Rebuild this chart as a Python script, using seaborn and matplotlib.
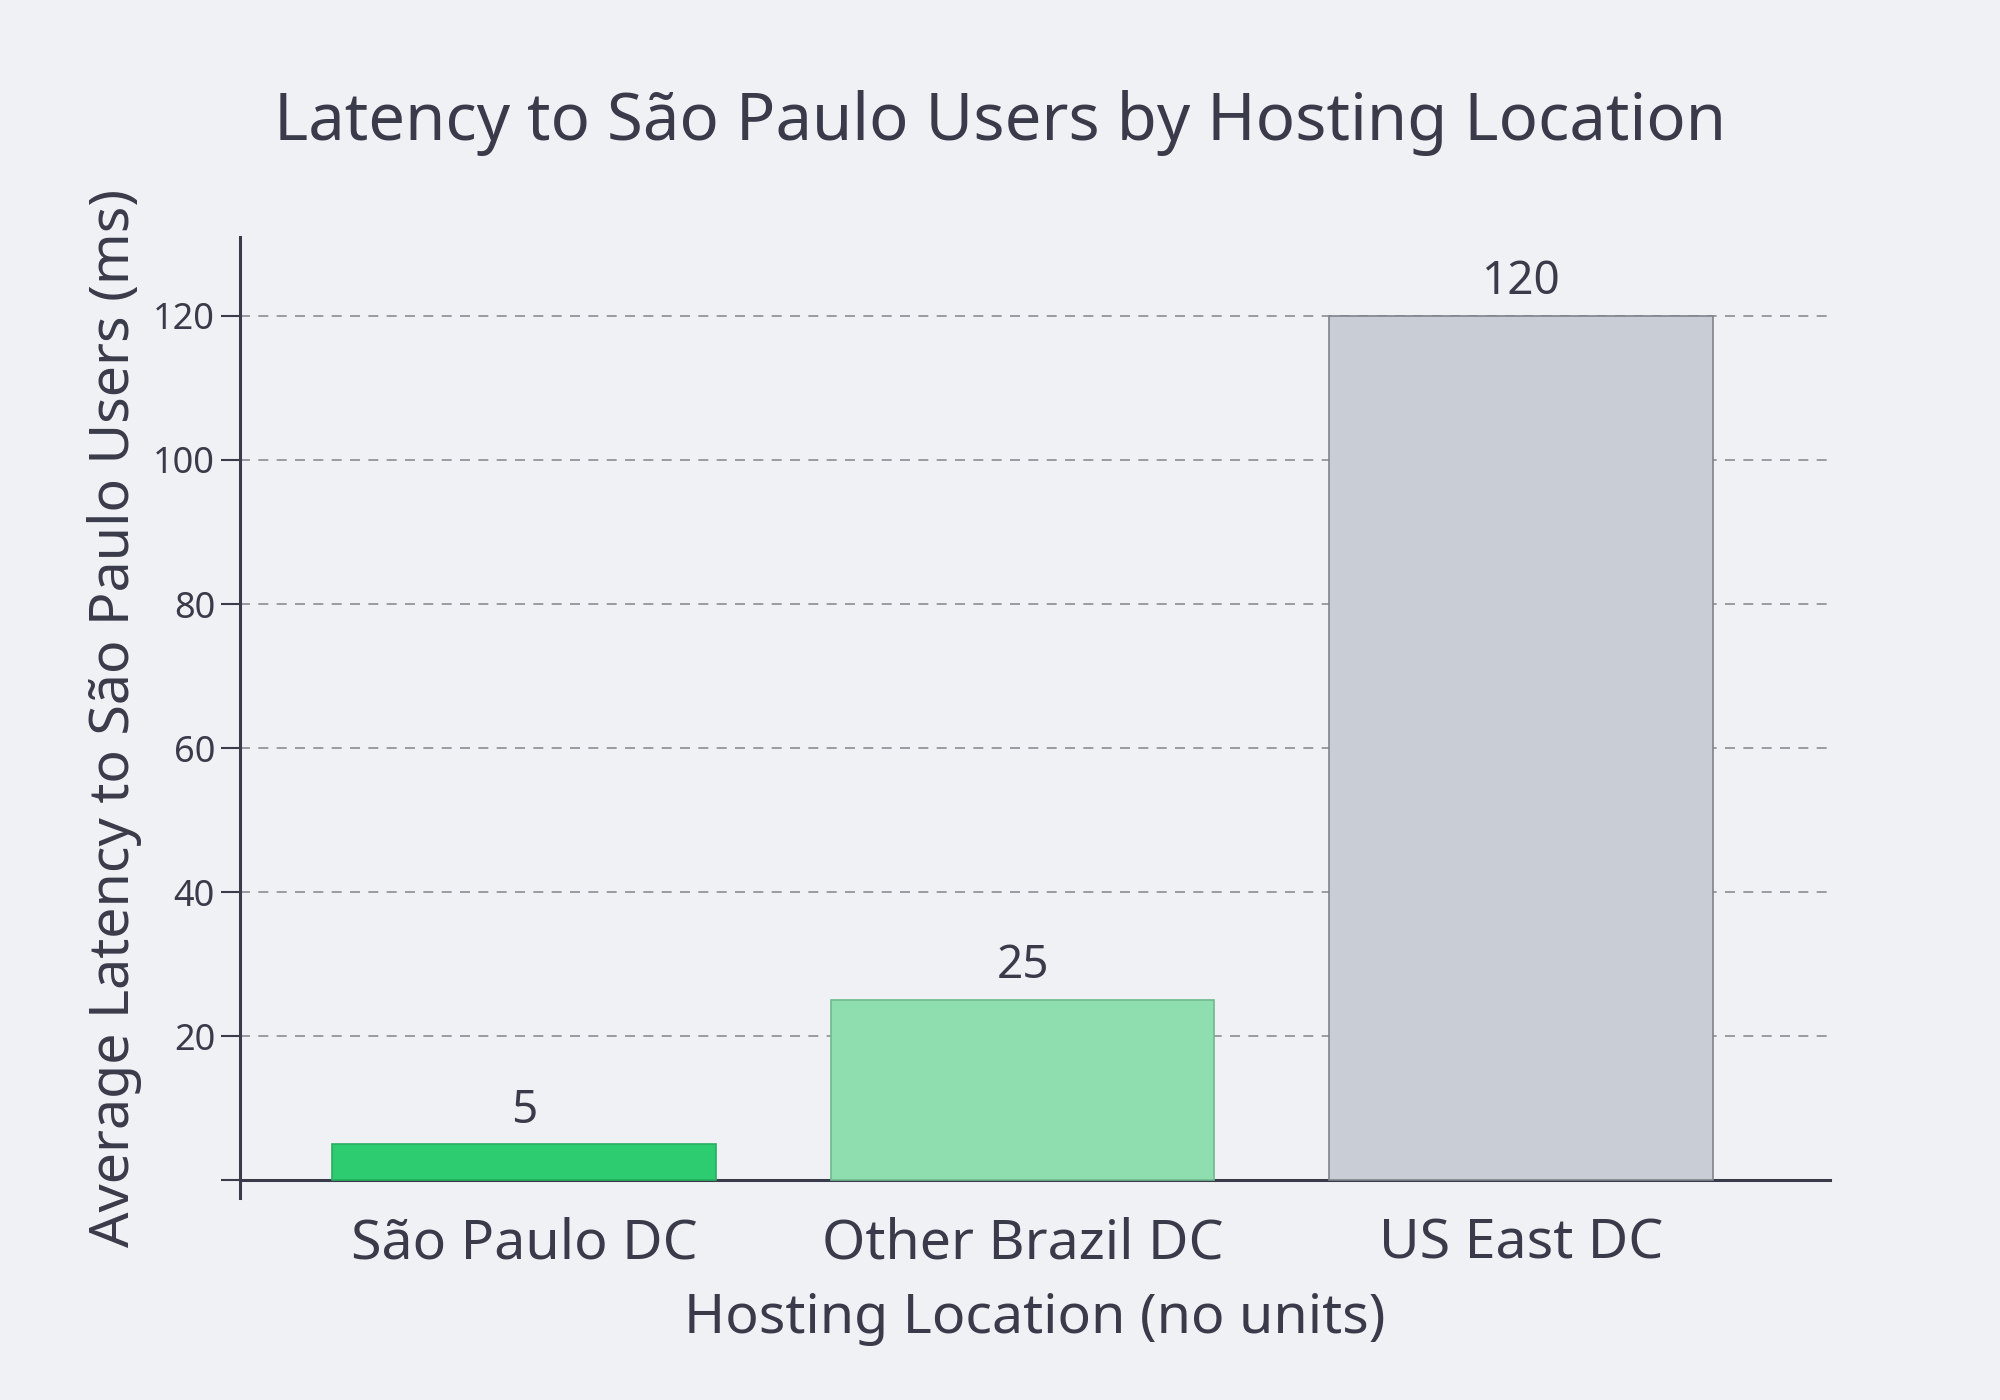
import matplotlib
matplotlib.use("Agg")
import matplotlib.pyplot as plt
import seaborn as sns
import pandas as pd

categories = ["São Paulo DC", "Other Brazil DC", "US East DC"]
latency_ms = [5, 25, 120]
colors = ["#2ecc71", "#8fdeb0", "#c9ced6"]
edges = ["#27ae60", "#6fb98e", "#7f848c"]

bg = "#f0f1f5"
tc = "#3a3b4a"
sns.set_theme(style="white")
plt.rcParams["font.family"] = ["Noto Sans", "DejaVu Sans"]

df = pd.DataFrame({"loc": categories, "lat": latency_ms})
fig = plt.figure(figsize=(20, 14), dpi=100, facecolor=bg)
ax = fig.add_axes([0.12, 0.144, 0.795, 0.687], facecolor=bg)
sns.barplot(data=df, x="loc", y="lat", hue="loc", palette=colors, legend=False,
            saturation=1, width=0.77, ax=ax, zorder=3)
for p, e in zip(ax.patches, edges):
    p.set_edgecolor(e); p.set_linewidth(1.2)
for i, v in enumerate(latency_ms):
    ax.text(i, v + 1.5, str(v), ha="center", va="bottom", fontsize=33, color=tc,
            fontweight="medium")

ax.set_xlim(-0.57, 2.62)
ax.set_ylim(-2.5, 131)
ax.set_yticks([0, 20, 40, 60, 80, 100, 120])
ax.set_yticklabels(["", "20", "40", "60", "80", "100", "120"])
ax.yaxis.grid(True, linestyle=(0, (6, 5)), color="#8a8d95", linewidth=1.2, zorder=0)
for s in ["top", "right"]:
    ax.spines[s].set_visible(False)
ax.spines["bottom"].set_position(("data", 0))
for s in ["left", "bottom"]:
    ax.spines[s].set_color(tc); ax.spines[s].set_linewidth(2.2)
ax.tick_params(axis="y", left=True, length=14, width=1.5, colors=tc, labelsize=26, pad=4)
ax.tick_params(axis="x", bottom=False, labelsize=40, colors=tc, pad=20)
for t in ax.get_xticklabels():
    t.set_fontweight("medium")
ax.set_xlabel("Hosting Location (no units)", fontsize=40, color=tc, labelpad=14)
ax.set_ylabel("Average Latency to São Paulo Users (ms)", fontsize=40, color=tc, labelpad=8)
fig.text(0.50, 0.912, "Latency to São Paulo Users by Hosting Location", ha="center",
         va="center", fontsize=47, color=tc)
fig.savefig("out.png", dpi=100, facecolor=bg)
